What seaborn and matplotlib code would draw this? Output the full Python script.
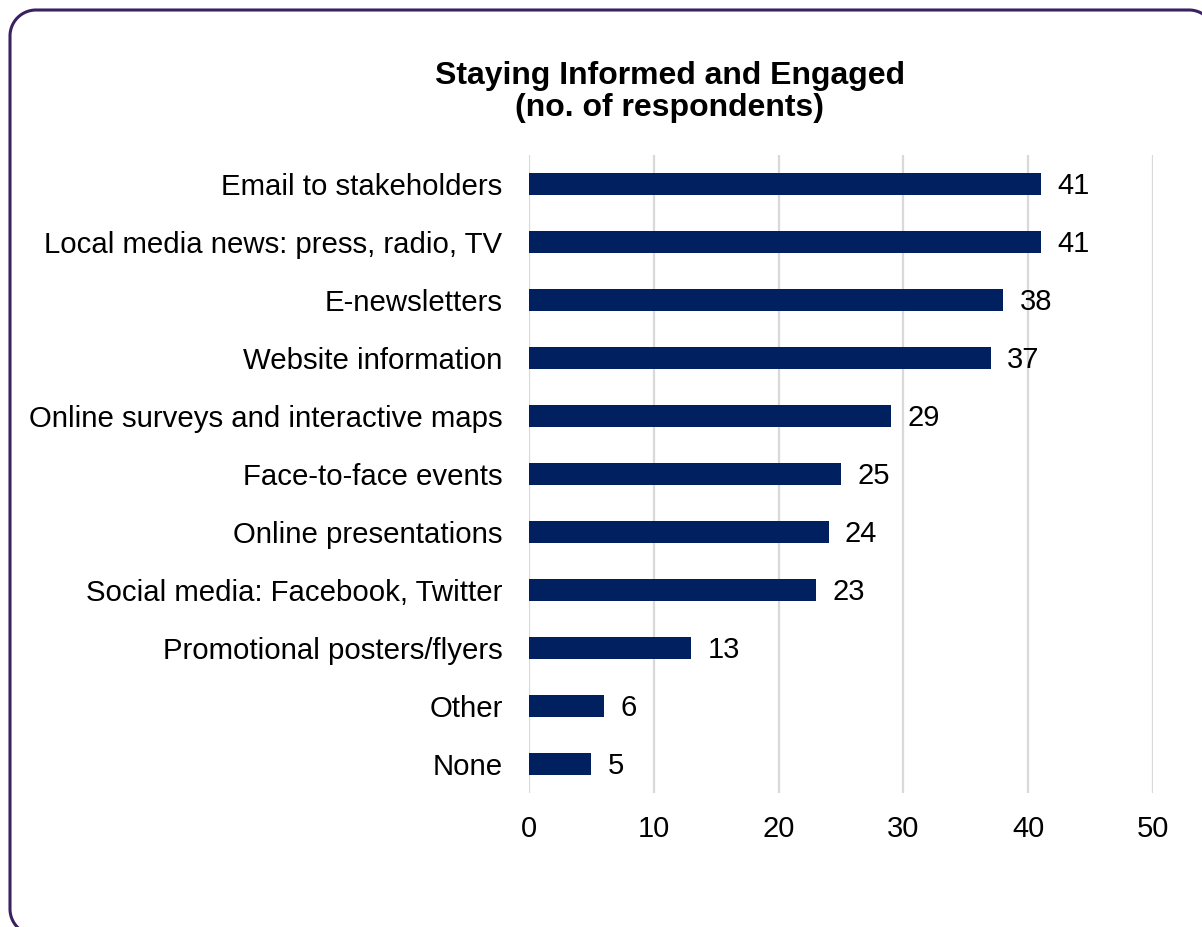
import numpy as np
import pandas as pd
import seaborn as sns
import matplotlib.pyplot as plt
from matplotlib.lines import Line2D
from matplotlib.transforms import IdentityTransform

# Données
categories = ['Email to stakeholders', 'Local media news: press, radio, TV', 'E-newsletters',
              'Website information', 'Online surveys and interactive maps', 'Face-to-face events',
              'Online presentations', 'Social media: Facebook, Twitter', 'Promotional posters/flyers',
              'Other', 'None']
respondents = [41, 41, 38, 37, 29, 25, 24, 23, 13, 6, 5]
x_ticks = [0, 10, 20, 30, 40, 50]

df = pd.DataFrame({'Channel': categories, 'Respondents': respondents})

sns.set_style('white')
plt.rcParams['font.family'] = ['Liberation Sans', 'DejaVu Sans']
plt.rcParams['text.color'] = 'black'
plt.rcParams['xtick.color'] = 'black'
plt.rcParams['ytick.color'] = 'black'

W, H = 1202, 927
fig = plt.figure(figsize=(W / 100, H / 100), dpi=100)
ax = fig.add_axes([529 / W, 1 - 793 / H, (1153 - 529) / W, (793 - 155) / H])

# Cadre arrondi (coupé en bas et à droite), en pixels depuis le haut
left, top, right, bottom, r = 10, 10, 1215, 935, 26
t = np.linspace(0, np.pi / 2, 30)
xs, ys = [], []
# coin bas-gauche
xs += list(left + r - r * np.cos(t)); ys += list(bottom - r + r * np.sin(t))
xs, ys = xs[::-1], ys[::-1]
# coin haut-gauche
xs += list(left + r - r * np.cos(t)); ys += list(top + r - r * np.sin(t))
# coin haut-droit
xs += list(right - r + r * np.sin(t)); ys += list(top + r - r * np.cos(t))
# coin bas-droit
xs += list(right - r + r * np.cos(t)); ys += list(bottom - r + r * np.sin(t))
frame = Line2D(xs, [H - y for y in ys], transform=IdentityTransform(),
               color='#3b2162', linewidth=2.2, solid_joinstyle='round')
fig.add_artist(frame)

sns.barplot(data=df, y='Channel', x='Respondents', color='#002060', width=0.37,
            saturation=1, linewidth=0, ax=ax, zorder=3)

ax.set_xlim(0, 50)
ax.set_ylim(10.5, -0.5)
ax.set_xticks(x_ticks)
ax.set_xticklabels([str(t) for t in x_ticks], fontsize=21)
ax.tick_params(axis='y', labelsize=21.2, length=0, pad=19)
ax.tick_params(axis='x', length=0, pad=16)
ax.grid(axis='x', color='#d9d9d9', linewidth=1.6, zorder=0)
ax.set_xlabel('')
ax.set_ylabel('')
for s in ax.spines.values():
    s.set_visible(False)

for i, v in enumerate(respondents):
    ax.text(v + 1.3, i + 0.04, str(v), va='center', ha='left', fontsize=21, color='black')

fig.text(670 / W, 1 - 92 / H, 'Staying Informed and Engaged\n(no. of respondents)',
         ha='center', va='center', fontsize=23, fontweight='bold', linespacing=1.05)

fig.savefig('out.png', dpi=100)
